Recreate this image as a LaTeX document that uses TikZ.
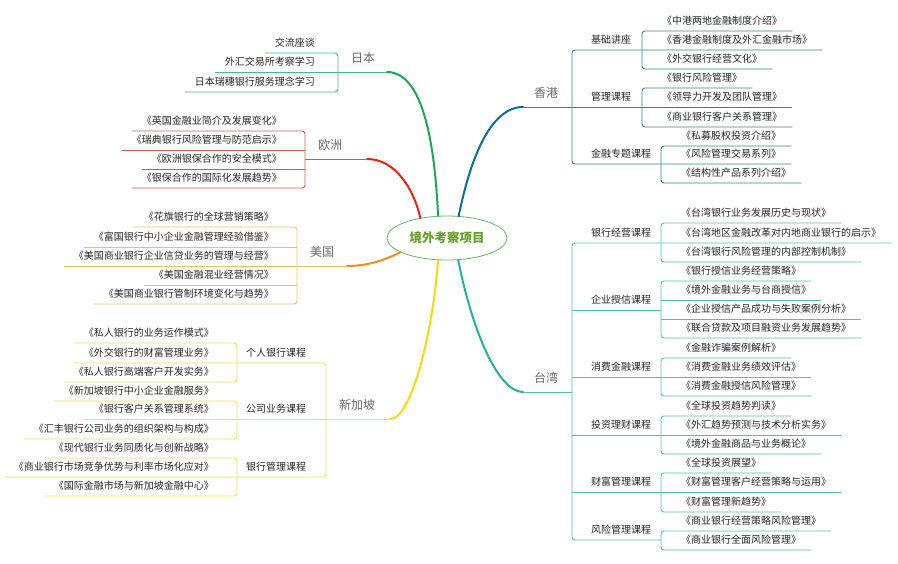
\documentclass[tikz,border=0pt]{standalone}
\usepackage{fontspec}
\setmainfont{Noto Sans CJK SC}
\usepackage{tikz}
\usetikzlibrary{shapes.geometric}

\definecolor{jpc}{RGB}{25,168,85}
\definecolor{jpl}{RGB}{80,182,120}
\definecolor{euc}{RGB}{232,35,22}
\definecolor{eul}{RGB}{205,90,78}
\definecolor{usc}{RGB}{240,140,25}
\definecolor{usl}{RGB}{238,190,105}
\definecolor{sgc}{RGB}{248,218,10}
\definecolor{sgl}{RGB}{238,222,85}
\definecolor{hkc}{RGB}{10,112,140}
\definecolor{hkl}{RGB}{45,135,148}
\definecolor{twc}{RGB}{40,175,158}
\definecolor{twl}{RGB}{85,190,172}
\definecolor{rootc}{RGB}{100,160,40}
\definecolor{rootl}{RGB}{110,175,110}

\begin{document}
\begin{tikzpicture}[
    x=1pt, y=-1pt,
    leafL/.style={anchor=south east, inner xsep=10pt, inner ysep=3.5pt,
        text height=8pt, text depth=2.5pt, font=\fontsize{10}{12}\selectfont, text=black!85},
    leafR/.style={leafL, anchor=south west},
    course/.style={anchor=south, inner xsep=1pt, inner ysep=3.5pt,
        text height=8pt, text depth=2.5pt, font=\fontsize{10}{12}\selectfont, text=black!85},
    region/.style={anchor=south, inner sep=1pt, inner ysep=6pt,
        text height=10pt, text depth=3pt, font=\fontsize{12}{14}\selectfont, text=black!60},
    jpmain/.style={draw=jpc, line width=2pt, line cap=round},
    jpline/.style={draw=jpl, line width=0.9pt, rounded corners=3pt},
    eumain/.style={draw=euc, line width=2pt, line cap=round},
    euline/.style={draw=eul, line width=0.9pt, rounded corners=3pt},
    usmain/.style={draw=usc, line width=2pt, line cap=round},
    usline/.style={draw=usl, line width=0.9pt, rounded corners=3pt},
    sgmain/.style={draw=sgc, line width=2pt, line cap=round},
    sgline/.style={draw=sgl, line width=0.9pt, rounded corners=3pt},
    hkmain/.style={draw=hkc, line width=2pt, line cap=round},
    hkline/.style={draw=hkl, line width=0.9pt, rounded corners=3pt},
    twmain/.style={draw=twc, line width=2pt, line cap=round},
    twline/.style={draw=twl, line width=0.9pt, rounded corners=3pt},
]
    \useasboundingbox (0,0) rectangle (898,563);

    \node[ellipse, draw=rootl, line width=0.8pt, fill=white, minimum width=120pt,
        minimum height=44pt, inner sep=0pt, text=rootc,
        font=\fontsize{12.5}{14}\selectfont\bfseries] (root) at (447,238) {境外考察项目};

    % 日本
    \coordinate (jpJ) at (387,72);
    \coordinate (jpX) at (338,72);
    \node[region] (jp) at (363,72) {日本};
    \node[leafL] (jp1) at (325,53) {交流座谈};
    \node[leafL] (jp2) at (325,72) {外汇交易所考察学习};
    \node[leafL] (jp3) at (325,92) {日本瑞穗银行服务理念学习};
    \draw[jpmain] (root.112) .. controls (434,125) and (418,72) .. (jpJ);
    \draw[jpline] (jpJ) -- (jp2.south west);
    \draw[jpline] (jp1.south west) -- (jp1.south west -| jpX) |- (jp3.south west);

    % 欧洲
    \coordinate (euJ) at (367,159);
    \coordinate (euX) at (305,159);
    \node[region] (eu) at (330,159) {欧洲};
    \node[leafL] (eu1) at (292,131) {《英国金融业简介及发展变化》};
    \node[leafL] (eu2) at (292,150) {《瑞典银行风险管理与防范启示》};
    \node[leafL] (eu3) at (292,169) {《欧洲银保合作的安全模式》};
    \node[leafL] (eu4) at (292,188) {《银保合作的国际化发展趋势》};
    \draw[eumain] (root.143) .. controls (414,190) and (396,159) .. (euJ);
    \draw[euline] (euJ) -- (euX);
    \draw[euline] (eu1.south west) -- (eu1.south west -| euX) |- (eu4.south west);
    \draw[euline] (eu2.south west) -- (eu2.south west -| euX);
    \draw[euline] (eu3.south west) -- (eu3.south west -| euX);

    % 美国
    \coordinate (usJ) at (347,266);
    \coordinate (usX) at (297,266);
    \node[region] (us) at (322,266) {美国};
    \node[leafL] (us1) at (284,227) {《花旗银行的全球营销策略》};
    \node[leafL] (us2) at (284,247) {《富国银行中小企业金融管理经验借鉴》};
    \node[leafL] (us3) at (284,266) {《美国商业银行企业信贷业务的管理与经营》};
    \node[leafL] (us4) at (284,285) {《美国金融混业经营情况》};
    \node[leafL] (us5) at (284,304) {《美国商业银行管制环境变化与趋势》};
    \draw[usmain] (root.197) .. controls (385,260) and (368,266) .. (usJ);
    \draw[usline] (usJ) -- (us3.south west);
    \draw[usline] (us1.south west) -- (us1.south west -| usX) |- (us5.south west);
    \draw[usline] (us2.south west) -- (us2.south west -| usX);
    \draw[usline] (us4.south west) -- (us4.south west -| usX);

    % 新加坡
    \coordinate (sgJ) at (390,419);
    \coordinate (sgX) at (326,419);
    \coordinate (sgAX) at (237,363);
    \coordinate (sgBX) at (237,419);
    \coordinate (sgCX) at (237,477);
    \node[region] (sg) at (357,419) {新加坡};
    \node[course] (sgA) at (276,363) {个人银行课程};
    \node[course] (sgB) at (276,419) {公司业务课程};
    \node[course] (sgC) at (276,477) {银行管理课程};
    \node[leafL] (sgA1) at (224,343) {《私人银行的业务运作模式》};
    \node[leafL] (sgA2) at (224,363) {《外交银行的财富管理业务》};
    \node[leafL] (sgA3) at (224,382) {《私人银行高端客户开发实务》};
    \node[leafL] (sgB1) at (224,401) {《新加坡银行中小企业金融服务》};
    \node[leafL] (sgB2) at (224,419) {《银行客户关系管理系统》};
    \node[leafL] (sgB3) at (224,439) {《汇丰银行公司业务的组织架构与构成》};
    \node[leafL] (sgC1) at (224,458) {《现代银行业务同质化与创新战略》};
    \node[leafL] (sgC2) at (224,477) {《商业银行市场竞争优势与利率市场化应对》};
    \node[leafL] (sgC3) at (224,496) {《国际金融市场与新加坡金融中心》};
    \draw[sgmain] (root.248) .. controls (433,330) and (412,419) .. (sgJ);
    \draw[sgline] (sgJ) -- (sgB2.south west);
    \draw[sgline] (sgA2.south west) -- (sgA2.south west -| sgX) |- (sgC2.south west);
    \draw[sgline] (sgA1.south west) -- (sgA1.south west -| sgAX) |- (sgA3.south west);
    \draw[sgline] (sgB1.south west) -- (sgB1.south west -| sgBX) |- (sgB3.south west);
    \draw[sgline] (sgC1.south west) -- (sgC1.south west -| sgCX) |- (sgC3.south west);

    % 香港
    \coordinate (hkJ) at (523,107);
    \coordinate (hkX) at (572,107);
    \coordinate (hkAX) at (642,50);
    \coordinate (hkBX) at (642,107);
    \coordinate (hkCX) at (661,164);
    \node[region] (hk) at (546,107) {香港};
    \node[course] (hkA) at (611,50) {基础讲座};
    \node[course] (hkB) at (611,107) {管理课程};
    \node[course] (hkC) at (621,164) {金融专题课程};
    \node[leafR] (hkA1) at (652,31) {《中港两地金融制度介绍》};
    \node[leafR] (hkA2) at (652,50) {《香港金融制度及外汇金融市场》};
    \node[leafR] (hkA3) at (652,69) {《外交银行经营文化》};
    \node[leafR] (hkB1) at (652,88) {《银行风险管理》};
    \node[leafR] (hkB2) at (652,107) {《领导力开发及团队管理》};
    \node[leafR] (hkB3) at (652,127) {《商业银行客户关系管理》};
    \node[leafR] (hkC1) at (671,146) {《私募股权投资介绍》};
    \node[leafR] (hkC2) at (671,164) {《风险管理交易系列》};
    \node[leafR] (hkC3) at (671,183) {《结构性产品系列介绍》};
    \draw[hkmain] (root.62) .. controls (470,160) and (490,107) .. (hkJ);
    \draw[hkline] (hkJ) -- (hkB2.south east);
    \draw[hkline] (hkA2.south east) -- (hkA2.south east -| hkX) |- (hkC2.south east);
    \draw[hkline] (hkA1.south east) -- (hkA1.south east -| hkAX) |- (hkA3.south east);
    \draw[hkline] (hkB1.south east) -- (hkB1.south east -| hkBX) |- (hkB3.south east);
    \draw[hkline] (hkC1.south east) -- (hkC1.south east -| hkCX) |- (hkC3.south east);

    % 台湾
    \coordinate (twJ) at (523,392);
    \coordinate (twX) at (572,392);
    \coordinate (twAX) at (661,243);
    \coordinate (twBX) at (661,310);
    \coordinate (twCX) at (661,377);
    \coordinate (twDX) at (661,435);
    \coordinate (twEX) at (661,492);
    \coordinate (twFX) at (661,540);
    \node[region] (tw) at (546,392) {台湾};
    \node[course] (twA) at (621,243) {银行经营课程};
    \node[course] (twB) at (621,310) {企业授信课程};
    \node[course] (twC) at (621,377) {消费金融课程};
    \node[course] (twD) at (621,435) {投资理财课程};
    \node[course] (twE) at (621,492) {财富管理课程};
    \node[course] (twF) at (621,540) {风险管理课程};
    \node[leafR] (twA1) at (671,223) {《台湾银行业务发展历史与现状》};
    \node[leafR] (twA2) at (671,243) {《台湾地区金融改革对内地商业银行的启示》};
    \node[leafR] (twA3) at (671,262) {《台湾银行风险管理的内部控制机制》};
    \node[leafR] (twB1) at (671,281) {《银行授信业务经营策略》};
    \node[leafR] (twB2) at (671,300) {《境外金融业务与台商授信》};
    \node[leafR] (twB3) at (671,319) {《企业授信产品成功与失败案例分析》};
    \node[leafR] (twB4) at (671,338) {《联合贷款及项目融资业务发展趋势》};
    \node[leafR] (twC1) at (671,358) {《金融诈骗案例解析》};
    \node[leafR] (twC2) at (671,377) {《消费金融业务绩效评估》};
    \node[leafR] (twC3) at (671,396) {《消费金融授信风险管理》};
    \node[leafR] (twD1) at (671,416) {《全球投资趋势判读》};
    \node[leafR] (twD2) at (671,435) {《外汇趋势预测与技术分析实务》};
    \node[leafR] (twD3) at (671,454) {《境外金融商品与业务概论》};
    \node[leafR] (twE1) at (671,473) {《全球投资展望》};
    \node[leafR] (twE2) at (671,492) {《财富管理客户经营策略与运用》};
    \node[leafR] (twE3) at (671,512) {《财富管理新趋势》};
    \node[leafR] (twF1) at (671,531) {《商业银行经营策略风险管理》};
    \node[leafR] (twF2) at (671,550) {《商业银行全面风险管理》};
    \draw[twmain] (root.297) .. controls (472,330) and (498,392) .. (twJ);
    \draw[twline] (twJ) -- (twX);
    \draw[twline] (twA2.south east) -- (twA2.south east -| twX) |- (twFX);
    \draw[twline] (twX |- twBX) -- (twBX);
    \draw[twline] (twX |- twC2.south) -- (twC2.south east);
    \draw[twline] (twX |- twD2.south) -- (twD2.south east);
    \draw[twline] (twX |- twE2.south) -- (twE2.south east);
    \draw[twline] (twA1.south east) -- (twA1.south east -| twAX) |- (twA3.south east);
    \draw[twline] (twB1.south east) -- (twB1.south east -| twBX) |- (twB4.south east);
    \draw[twline] (twB2.south east) -- (twB2.south east -| twBX);
    \draw[twline] (twB3.south east) -- (twB3.south east -| twBX);
    \draw[twline] (twC1.south east) -- (twC1.south east -| twCX) |- (twC3.south east);
    \draw[twline] (twD1.south east) -- (twD1.south east -| twDX) |- (twD3.south east);
    \draw[twline] (twE1.south east) -- (twE1.south east -| twEX) |- (twE3.south east);
    \draw[twline] (twF1.south east) -- (twF1.south east -| twFX) |- (twF2.south east);
\end{tikzpicture}
\end{document}
